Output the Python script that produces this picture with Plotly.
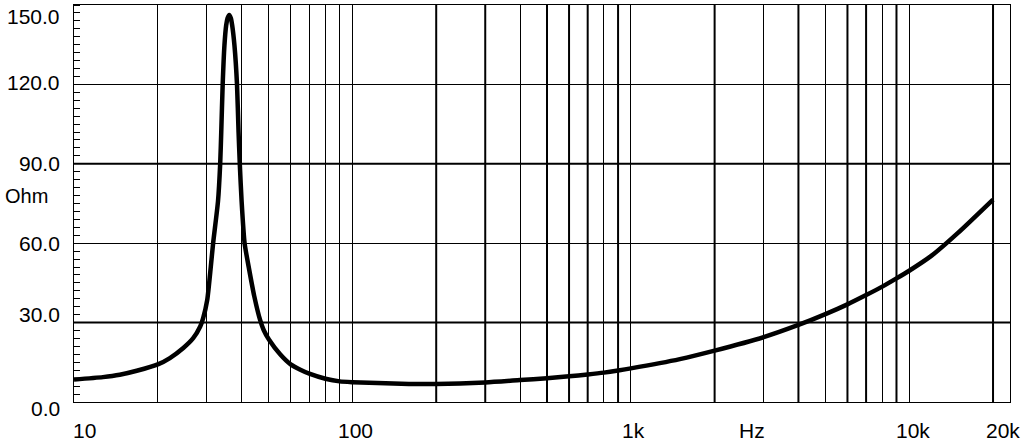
import math
import plotly.graph_objects as go

# impedance curve (Hz, Ohm)
freq_hz = [10, 12.7, 14.6, 16.8, 20.1, 22.1, 24.7, 26.8, 28.4, 29.1, 30.1, 31.0,
           31.6, 32.9, 33.5, 33.8, 34.2, 34.7, 35.2, 35.6, 36.1, 36.6, 37.0, 37.7,
           38.5, 39.0, 39.4, 40.0, 41.0, 42.4, 44.4, 46.6, 48, 50.2, 55, 60, 65, 70,
           80, 90, 100, 150, 200, 300, 400, 500, 600, 700, 800, 900, 1000, 1500,
           2000, 3000, 4000, 5000, 6000, 7000, 8000, 9000, 10000, 12000, 15000, 20000]
impedance_ohm = [8.5, 9.4, 10.3, 11.8, 14.3, 16.6, 20.4, 24.1, 28.5, 31.7, 38.6, 51.1,
                 60, 75.8, 90, 102, 120, 134.7, 142.3, 145, 146.2, 145, 142.3, 134.7,
                 120, 102, 90, 75.8, 60, 51.1, 40.0, 31.0, 27.2, 23.5, 18.0, 14.2, 12.2, 10.7,
                 8.8, 7.8, 7.5, 6.9, 6.8, 7.4, 8.3, 9.0, 9.7, 10.4, 11.1, 11.9, 12.7, 16.2,
                 19.4, 24.5, 29.1, 33.2, 36.9, 40.4, 43.6, 46.7, 49.6, 55.2, 64.0, 76.5]

# grid
grid_hz = [20, 30, 40, 50, 60, 70, 80, 90, 100, 200, 300, 400, 500, 600, 700, 800, 900,
           1000, 2000, 3000, 4000, 5000, 6000, 7000, 8000, 9000, 10000, 20000]
heavy_hz = [200, 300, 500, 600, 700, 900, 2000, 4000, 6000, 7000, 9000, 20000]
grid_ohm = [30, 60, 90, 120]
heavy_ohm = [30, 90]

# axis labels
y_labels = [150, 120, 90, 60, 30, 0]
x_labels = [10, 100, 1000, 10000, 20000]
x_label_text = ["10", "100", "1k", "10k", "20k"]

FONT = "Liberation Sans, Arial, Helvetica, sans-serif"

fig = go.Figure()
fig.add_trace(go.Scatter(x=freq_hz, y=impedance_ohm, mode="lines",
                         line=dict(color="black", width=4.5, shape="spline", smoothing=0.6),
                         hoverinfo="skip"))

for f in heavy_hz:
    fig.add_shape(type="line", xref="x", yref="paper", x0=f, x1=f, y0=0, y1=1,
                  line=dict(color="black", width=2), layer="below")
for v in heavy_ohm:
    fig.add_shape(type="line", xref="paper", yref="y", x0=0, x1=1, y0=v, y1=v,
                  line=dict(color="black", width=2), layer="below")

# y tick labels (nudged like the original)
y_shift = {150: -11, 120: 2, 90: 0, 60: 0, 30: 8, 0: -6}
for v in y_labels:
    fig.add_annotation(x=0, xref="paper", y=v, yref="y", text=f"{v:.1f}",
                       showarrow=False, xanchor="right", yanchor="middle",
                       xshift=-12, yshift=y_shift[v],
                       font=dict(family=FONT, size=21, color="black"))

x_shift = {10: 10, 100: 3, 1000: 3, 10000: 4, 20000: 10}
for f, t in zip(x_labels, x_label_text):
    fig.add_annotation(x=math.log10(f), xref="x", y=0, yref="paper", text=t,
                       showarrow=False, xanchor="center", yanchor="middle",
                       xshift=x_shift[f], yshift=-28,
                       font=dict(family=FONT, size=21, color="black"))

fig.add_annotation(x=0.7244, xref="paper", y=0, yref="paper", text="Hz",
                   showarrow=False, xanchor="center", yanchor="middle", yshift=-28,
                   font=dict(family=FONT, size=21, color="black"))
fig.add_annotation(x=0, xref="paper", y=0.518, yref="paper", text="Ohm",
                   showarrow=False, xanchor="center", yanchor="middle", xshift=-48,
                   font=dict(family=FONT, size=20, color="black"))

fig.update_xaxes(type="log", range=[1, 4.362], tickvals=grid_hz, showticklabels=False,
                 showgrid=True, gridcolor="black", gridwidth=1, ticks="",
                 showline=True, mirror=True, linecolor="black", linewidth=1,
                 zeroline=False)
fig.update_yaxes(range=[0, 150], tickvals=grid_ohm, showticklabels=False,
                 showgrid=True, gridcolor="black", gridwidth=1, ticks="",
                 minor=dict(dtick=3, ticks="inside", ticklen=6, tickcolor="black",
                            tickwidth=1, showgrid=False),
                 showline=True, mirror=True, linecolor="black", linewidth=1,
                 zeroline=False)

fig.update_layout(width=1025, height=444, showlegend=False,
                  margin=dict(l=74, r=15, t=5, b=42),
                  paper_bgcolor="white", plot_bgcolor="white",
                  font=dict(family=FONT, color="black"))

# drop the page's default body margin so the figure sits at the window corner
fig.write_html("out.html", config={"displayModeBar": False},
               post_script="document.body.style.margin='0';")
